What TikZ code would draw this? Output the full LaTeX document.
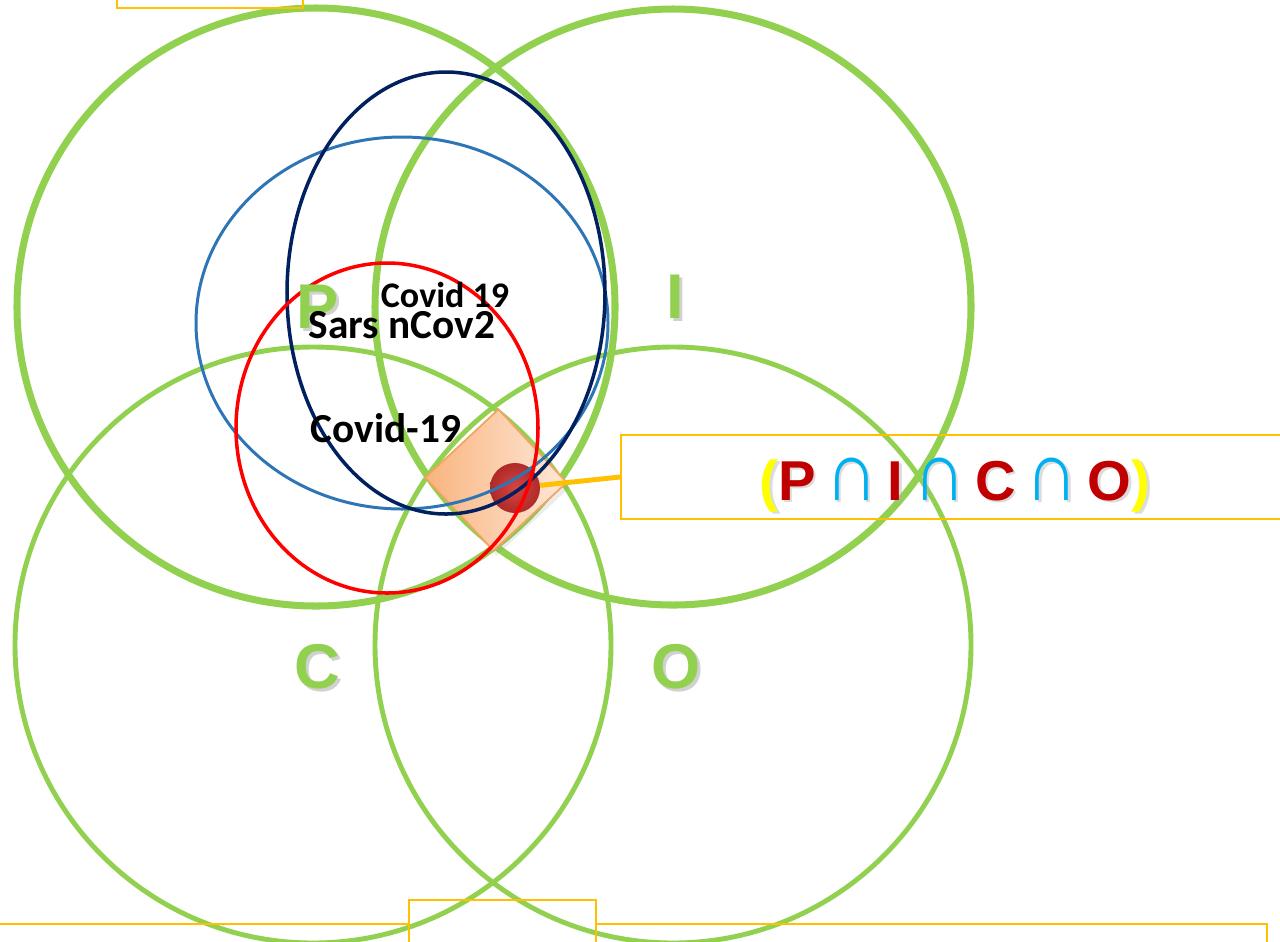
\documentclass[tikz,border=0pt]{standalone}
\usepackage{fontspec}
\setmainfont{Carlito}
\newfontfamily\arialfont{Liberation Sans}
\usetikzlibrary{shapes.geometric, shadows, positioning}
\definecolor{vgreen}{HTML}{92D050}
\definecolor{navyline}{HTML}{002060}
\definecolor{blueline}{HTML}{2E75B6}
\definecolor{framegold}{HTML}{FFC000}
\definecolor{darkred}{HTML}{C00000}
\definecolor{capcyan}{HTML}{00B0F0}
\definecolor{parenyellow}{HTML}{FFFF00}
\definecolor{peachlight}{HTML}{FEE8D8}
\definecolor{peachdark}{HTML}{F9B47E}
\definecolor{peachedge}{HTML}{F4A460}
\definecolor{ballin}{HTML}{D23A3A}
\definecolor{ballout}{HTML}{A81C1C}

% tall intersection sign
\newcommand{\tallcap}{\scalebox{1.3}[1.5]{∩}}
\newcommand{\gap}{\hspace{0.17em}}
% formula with three colours: brackets, letters, intersections
\newcommand{\formula}[3]{{\color{#1}(}{\color{#2}P}\gap{\color{#3}\tallcap}\gap{\color{#2}I}\gap{\color{#3}\tallcap}\gap{\color{#2}C}\gap{\color{#3}\tallcap}\gap{\color{#2}O}{\color{#1})}}

\begin{document}
\begin{tikzpicture}[x=0.02cm, y=-0.02cm,
    ringtop/.style={draw=vgreen, line width=4pt},
    ringbot/.style={draw=vgreen, line width=2.8pt},
    setletter/.style={font=\arialfont\bfseries\fontsize{36}{40}\selectfont, anchor=base, inner sep=0pt},
    tag/.style={font=\bfseries, anchor=base, inner sep=0pt, text=black},
    frame/.style={draw=framegold, line width=1.1pt}]
    \clip (0,0) rectangle (1280,941);
    % Four PICO circles
    \draw[ringtop] (316,307) circle[radius=299];
    \draw[ringtop] (673,307) circle[radius=298];
    \draw[ringbot] (313,645) circle[radius=298];
    \draw[ringbot] (673,645) circle[radius=298];
    % Core square and ball
    \node[rectangle, rotate=43, minimum size=2cm, inner sep=0pt,
        left color=peachdark, right color=peachlight, draw=peachedge, line width=1pt,
        drop shadow={opacity=0.15, shadow xshift=0.06cm, shadow yshift=-0.1cm}] (core) at (496,480) {};
    \node[circle, minimum size=1cm, inner sep=0pt, inner color=ballin, outer color=ballout, opacity=0.92] (ball) at (515,488) {};
    % Ellipses of the terms
    \draw[blueline, line width=1.7pt] (402,323) ellipse[x radius=206, y radius=186];
    \draw[navyline, line width=2pt] (446,293) ellipse[x radius=159, y radius=221];
    \draw[red, line width=2pt] (387,428) ellipse[x radius=151, y radius=165];
    % Result box
    \node[frame, minimum width=13.38cm, minimum height=1.68cm, inner sep=0pt] (result) at (955.5,477) {};
    \draw[framegold, line width=2.8pt] (ball) -- (result.west);
    \node[opacity=0.45, font=\arialfont\bfseries\fontsize{32}{36}\selectfont, anchor=base] (formshadow) at (957.5,502.5) {\formula{black!30}{black!30}{black!30}};
    \node[font=\arialfont\bfseries\fontsize{32}{36}\selectfont, anchor=base] (formula) at (955,500) {\formula{parenyellow}{darkred}{capcyan}};
    % Partial frames at the edges
    \draw[frame] (117,-20) rectangle (303,8);
    \draw[frame] (-10,924) -- (409,924);
    \draw[frame] (409,960) -- (409,900) -- (596,900) -- (596,960);
    \draw[frame] (596,924) -- (1267,924) -- (1267,960);
    % Set letters with shadow
    \foreach \lab/\x/\y in {P/318/328, I/675/318, C/317/688, O/676/688} {
        \node[setletter, text=black!30, opacity=0.6] (sh\lab) at (\x+3,\y+3) {\lab};
        \node[setletter, text=vgreen] (let\lab) at (\x,\y) {\lab};
    }
    % Search terms
    \node[tag, font=\bfseries\fontsize{20.5}{24}\selectfont] (covida) at (445,307) {Covid 19};
    \node[tag, font=\bfseries\fontsize{23.5}{27}\selectfont] (sars) at (402,338) {Sars nCov2};
    \node[tag, font=\bfseries\fontsize{23.5}{27}\selectfont] (covidb) at (386,442) {Covid-19};
\end{tikzpicture}
\end{document}
